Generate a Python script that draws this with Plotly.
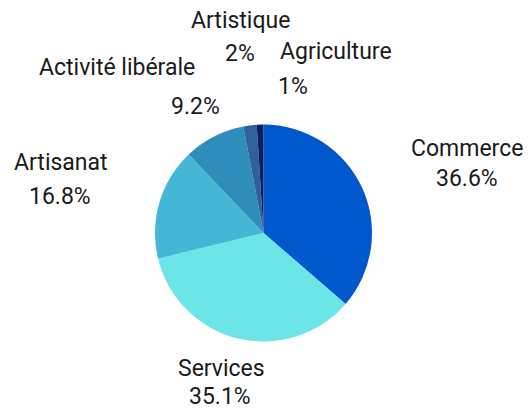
import plotly.graph_objects as go

labels = ["Commerce", "Services", "Artisanat", "Activité libérale", "Artistique", "Agriculture"]
values = [36.6, 35.1, 16.8, 9.2, 2, 1]
text_labels = ["36.6%", "35.1%", "16.8%", "9.2%", "2%", "1%"]
colors = ["#0058CC", "#6BE5E8", "#45B7D6", "#2E8DBB", "#2F5F9C", "#0A1E64"]

W, H = 529, 412
CX, CY, R = 263.5, 233, 108.5

# label layout (pixel centres): (name line, value line)
label_pos = [
    ((467, 148), (467, 179)),
    ((221, 368), (220, 396)),
    ((61, 163), (60, 196)),
    ((117, 67), (195, 106)),
    ((240, 21), (240, 53)),
    ((336, 52), (293, 86)),
]

fig = go.Figure(go.Pie(
    labels=labels,
    values=values,
    textinfo="none",
    sort=False,
    direction="clockwise",
    rotation=0,
    marker=dict(colors=colors, line=dict(width=0)),
    showlegend=False,
    hoverinfo="label+percent",
    domain=dict(x=[(CX - R) / W, (CX + R) / W], y=[(H - CY - R) / H, (H - CY + R) / H]),
))

font = dict(family="Roboto", size=23, color="#1a1a1a")
for name, val, (p1, p2) in zip(labels, text_labels, label_pos):
    for txt, (px, py) in ((name, p1), (val, p2)):
        fig.add_annotation(
            text=txt, x=px / W, y=1 - py / H, xref="paper", yref="paper",
            xanchor="center", yanchor="middle", showarrow=False, font=font,
        )

fig.update_layout(
    width=W, height=H,
    margin=dict(l=0, r=0, t=0, b=0),
    paper_bgcolor="white",
    plot_bgcolor="white",
)
fig.write_html("out.html", config={"displayModeBar": False},
               post_script="document.body.style.margin='0';")
